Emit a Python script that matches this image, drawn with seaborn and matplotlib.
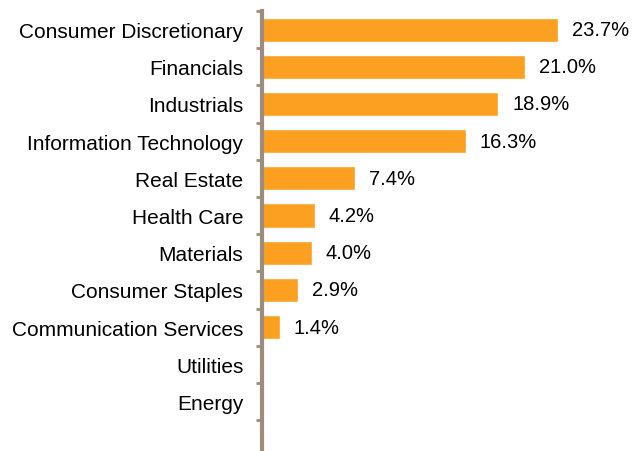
import numpy as np
import pandas as pd
import matplotlib
matplotlib.use("Agg")
import matplotlib.pyplot as plt
import seaborn as sns

# sector weights (%)
sectors = ["Consumer Discretionary", "Financials", "Industrials", "Information Technology",
           "Real Estate", "Health Care", "Materials", "Consumer Staples",
           "Communication Services", "Utilities", "Energy"]
weights = [23.7, 21.0, 18.9, 16.3, 7.4, 4.2, 4.0, 2.9, 1.4, 0.0, 0.0]
labels = ["23.7%", "21.0%", "18.9%", "16.3%", "7.4%", "4.2%", "4.0%", "2.9%", "1.4%", "", ""]

bar_color = "#FBA020"
axis_color = "#A08C7D"

sns.set_style("white")
plt.rcParams["font.family"] = ["Liberation Sans", "DejaVu Sans"]

df = pd.DataFrame({"sector": sectors, "weight": weights})

fig = plt.figure(figsize=(6.32, 4.52), dpi=100)
ax = fig.add_axes([262 / 632, 0.0, 1 - 262 / 632, 1 - 12 / 452])

sns.barplot(data=df, x="weight", y="sector", color=bar_color, saturation=1,
            width=0.65, ax=ax)

for bar, lab in zip(ax.patches, labels):
    if lab:
        ax.annotate(lab, (bar.get_width(), bar.get_y() + bar.get_height() / 2),
                    xytext=(14, 0), textcoords="offset pixels",
                    ha="left", va="center", fontsize=14.5, color="black")

ax.set_xlim(0, 29.6)
ax.set_ylim(11.33, -0.5)

# tick marks sit between categories
ax.set_yticks(np.arange(-0.5, 11, 1.0), minor=False)
ax.set_yticklabels([])
ax.set_yticks(np.arange(len(sectors)), minor=True)
ax.set_yticklabels(sectors, minor=True, fontsize=15, color="black")
ax.tick_params(axis="y", which="major", length=4, width=2, color=axis_color, direction="out", left=True)
ax.tick_params(axis="y", which="minor", length=0, pad=13.5)

ax.set_xticks([])
ax.set_xlabel("")
ax.set_ylabel("")
for s in ["top", "right", "bottom"]:
    ax.spines[s].set_visible(False)
ax.spines["left"].set_color(axis_color)
ax.spines["left"].set_linewidth(3)

fig.savefig("out.png", dpi=100)
